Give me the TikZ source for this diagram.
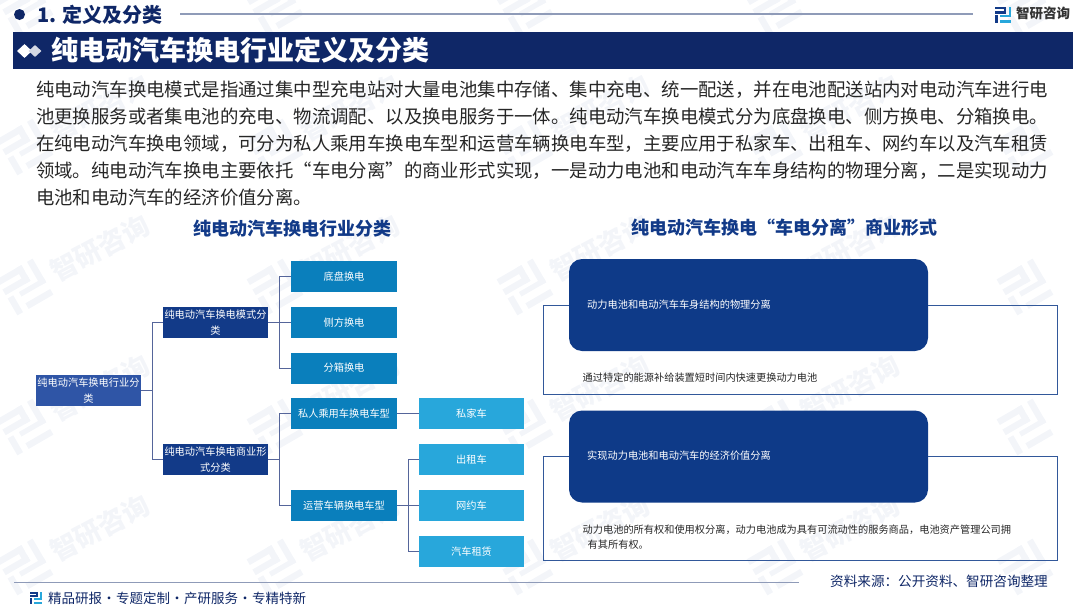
\documentclass[tikz,border=0pt]{standalone}
\usepackage{fontspec}
\setmainfont{Noto Sans CJK SC}
\usetikzlibrary{shapes.geometric}
\definecolor{navy}{HTML}{0F2767}
\definecolor{rootblue}{HTML}{2F55A6}
\definecolor{modeblue}{HTML}{123A88}
\definecolor{typeblue}{HTML}{0A7FBC}
\definecolor{carblue}{HTML}{28A7DB}
\definecolor{panelblue}{HTML}{0E3A88}
\definecolor{linkgrey}{HTML}{55659A}
\definecolor{rulegrey}{HTML}{8F9BB8}
\definecolor{markgrey}{HTML}{F3F5F9}
\newcommand{\boxfont}{\fontsize{10.2}{15.5}\selectfont}
\newcommand{\logoshape}[2]{
  \fill[#1] (-8,-8) rectangle (3,-5.5);
  \fill[#1] (0.5,-8) rectangle (3,-1);
  \fill[#1] (-8,-3.5) rectangle (3,-1);
  \fill[#1] (-8,0.5) rectangle (-5.5,8);
  \fill[#2] (5.5,-8) rectangle (8,2.5);
  \fill[#2] (-3,0.5) rectangle (8,2.5);
  \fill[#2] (-3,5.5) rectangle (8,8);
}
\newcommand{\dotgap}{\makebox[14pt]{·}}
\tikzset{
  logomark/.pic={\logoshape{modeblue}{carblue}},
  faintmark/.pic={\logoshape{markgrey}{markgrey}},
  boxbase/.style={minimum height=31pt, inner sep=0pt, text=white, align=center, font=\boxfont},
  rootbox/.style={boxbase, fill=rootblue, minimum width=105pt},
  modebox/.style={boxbase, fill=modeblue, minimum width=105pt},
  typebox/.style={boxbase, fill=typeblue, minimum width=106pt},
  carbox/.style={boxbase, fill=carblue, minimum width=105pt},
  panel/.style={fill=panelblue, rounded corners=13pt, minimum width=359pt, minimum height=92pt, inner sep=0pt},
  link/.style={draw=linkgrey, line width=0.8pt},
  frameline/.style={draw=panelblue!85, line width=0.8pt},
  plain/.style={inner sep=0pt, anchor=west, align=left},
  subtitle/.style={inner sep=0pt, text=modeblue, font=\fontsize{18}{20}\selectfont\bfseries}
}
\begin{document}
\begin{tikzpicture}[x=1pt, y=-1pt]
  \useasboundingbox (0,0) rectangle (1080,608);
  % watermark
  \foreach \i in {0,...,4} {
    \foreach \j in {0,...,4} {
      \pic[rotate=30, scale=2.6] at (25+250*\i, 7+140*\j) {faintmark};
    }
  }
  \foreach \i in {0,...,3} {
    \foreach \j in {1,...,4} {
      \node[text=markgrey, rotate=28, font=\fontsize{27}{27}\selectfont\bfseries] (mark\i\j) at (100+250*\i, -32+140*\j) {智研咨询};
    }
  }

  % header
  \node[circle, fill=navy, minimum size=11pt, inner sep=0pt] (dot) at (19.5,14.5) {};
  \node[plain, text=navy, font=\fontsize{20}{22}\selectfont\bfseries] (chapter) at (37,14.5) {1. 定义及分类};
  \coordinate (ruleend) at (973,14);
  \draw[draw=rulegrey, line width=1.2pt] (180,14) -- (ruleend);
  \pic at (1003,14.5) {logomark};
  \node[plain, text=black!80, font=\fontsize{13.5}{15}\selectfont\bfseries] (brand) at (1016,13) {智研咨询};

  % banner
  \fill[navy] (13,32) rectangle (1073,69);
  \node[diamond, fill=white, minimum width=15pt, minimum height=14pt, inner sep=0pt] (gemA) at (24.5,51) {};
  \node[diamond, fill=white!82!navy, minimum width=13pt, minimum height=12pt, inner sep=0pt] (gemB) at (35,51) {};
  \node[plain, text=white, font=\fontsize{27}{29}\selectfont\bfseries] (title) at (51,50.5) {纯电动汽车换电行业定义及分类};

  % paragraph
  \node[plain, anchor=north west, text=black!85, font=\fontsize{18.4}{27}\selectfont] (intro) at (36,81) {纯电动汽车换电模式是指通过集中型充电站对大量电池集中存储、集中充电、统一配送，并在电池配送站内对电动汽车进行电\\池更换服务或者集电池的充电、物流调配、以及换电服务于一体。纯电动汽车换电模式分为底盘换电、侧方换电、分箱换电。\\在纯电动汽车换电领域，可分为私人乘用车换电车型和运营车辆换电车型，主要应用于私家车、出租车、网约车以及汽车租赁\\领域。纯电动汽车换电主要依托“车电分离”的商业形式实现，一是动力电池和电动汽车车身结构的物理分离，二是实现动力\\电池和电动汽车的经济价值分离。};

  \node[subtitle] (leftsub) at (292.5,229) {纯电动汽车换电行业分类};
  \node[subtitle] (rightsub) at (784.5,228) {纯电动汽车换电“车电分离”商业形式};

  % tree
  \node[rootbox] (root) at (88.5,390.5) {纯电动汽车换电行业分\\类};
  \node[modebox] (mode) at (215.5,322.5) {纯电动汽车换电模式分\\类};
  \node[modebox] (biz) at (215.5,459.5) {纯电动汽车换电商业形\\式分类};
  \foreach \name/\y/\txt in {base/276.5/底盘换电, side/322.5/侧方换电, pack/368/分箱换电, priv/413.5/私人乘用车换电车型, fleet/505.5/运营车辆换电车型}
    \node[typebox] (\name) at (344,\y) {\txt};
  \foreach \name/\y/\txt in {home/413.5/私家车, taxi/459.5/出租车, hail/505.5/网约车, rent/551.5/汽车租赁}
    \node[carbox] (\name) at (471.5,\y) {\txt};

  \coordinate (jroot) at (152,390.5);
  \coordinate (jmode) at (279,322.5);
  \coordinate (jbiz) at (279,459.5);
  \coordinate (jfleet) at (408,505.5);
  \draw[link] (root.east) -- (jroot);
  \foreach \to in {mode, biz} \draw[link] (jroot) |- (\to.west);
  \draw[link] (mode.east) -- (jmode);
  \foreach \to in {base, side, pack} \draw[link] (jmode) |- (\to.west);
  \draw[link] (biz.east) -- (jbiz);
  \foreach \to in {priv, fleet} \draw[link] (jbiz) |- (\to.west);
  \draw[link] (priv.east) -- (home.west);
  \draw[link] (fleet.east) -- (jfleet);
  \foreach \to in {taxi, hail, rent} \draw[link] (jfleet) |- (\to.west);

  % panels
  \node[panel] (split) at (748.5,305) {};
  \node[panel] (value) at (748.5,456.5) {};
  \coordinate (splitA) at (543,394);
  \coordinate (splitB) at (1057,394);
  \coordinate (valueA) at (543,560);
  \coordinate (valueB) at (1057,560);
  \draw[frameline] (split.west) -- (split.west -| splitA) -- (splitA) -- (splitB) -- (split.east -| splitB) -- (split.east);
  \draw[frameline] (value.west) -- (value.west -| valueA) -- (valueA) -- (valueB) -- (value.east -| valueB) -- (value.east);
  \node[plain, text=white, font=\boxfont] (splitText) at (587,305) {动力电池和电动汽车车身结构的物理分离};
  \node[plain, text=white, font=\boxfont] (valueText) at (587,456) {实现动力电池和电动汽车的经济价值分离};
  \node[plain, text=black!85, font=\boxfont] (splitNote) at (582.5,378) {通过特定的能源补给装置短时间内快速更换动力电池};
  \node[plain, text=black!85, font=\boxfont] (valueNote) at (582.5,537) {动力电池的所有权和使用权分离，动力电池成为具有可流动性的服务商品，电池资产管理公司拥\\\hspace*{5pt}有其所有权。};

  % footer
  \coordinate (footend) at (799,582.5);
  \draw[draw=rulegrey, line width=1.2pt] (14,582.5) -- (footend);
  \node[plain, text=navy, font=\fontsize{13.6}{15}\selectfont] (source) at (830,581) {资料来源：公开资料、智研咨询整理};
  \pic[scale=0.75] at (36,598) {logomark};
  \node[plain, text=navy, font=\fontsize{13.5}{15}\selectfont] (slogan) at (48,598) {精品研报\dotgap 专题定制\dotgap 产研服务\dotgap 专精特新};
\end{tikzpicture}
\end{document}
